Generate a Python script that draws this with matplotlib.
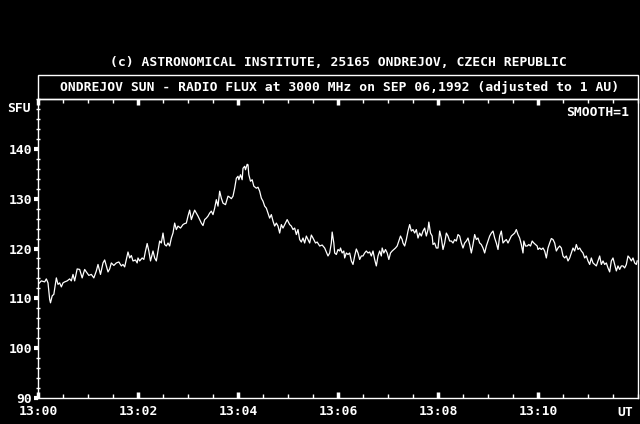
import matplotlib
matplotlib.use("Agg")
from matplotlib import pyplot as plt
from matplotlib.patches import Rectangle
from matplotlib.ticker import FixedLocator, MultipleLocator

# seconds after 13:00 UT and flux in SFU
t_1 = [0, 4, 8, 10, 12, 14, 15, 17, 19, 22, 24, 26, 28, 30, 32, 35, 38, 40, 42, 44,
       47, 50, 53, 56, 58, 61, 64, 67, 70, 72, 75, 78, 80, 82, 84, 86, 88, 91, 94, 97,
       100, 102, 104, 106, 108, 110, 112, 114, 117, 119]
flux_1 = [112.8, 113.5, 113.3, 113.9, 113.1, 109.8, 109.1, 110.5, 110.8, 114.1,
          112.8, 113.1, 112.3, 113.1, 113.3, 113.5, 113.9, 113.5, 114.8, 113.5,
          115.9, 115.8, 114.1, 115.8, 115.3, 114.6, 114.8, 114.1, 115.5, 116.8,
          114.8, 117.1, 117.7, 116.5, 115.3, 115.9, 117.1, 116.6, 117.1, 117.3,
          116.5, 116.8, 116.3, 117.8, 119.3, 118.1, 118.6, 117.5, 117.7, 117.1]

t_2 = [120, 122, 125, 127, 129, 131, 133, 135, 138, 140, 142, 144, 146, 148, 150, 152,
       154, 156, 158, 160, 162, 164, 166, 168, 171, 174, 176, 178, 180, 182, 184, 186,
       188, 190, 192, 194, 196, 198, 200, 202, 204, 206, 208, 210, 212, 214, 216, 218,
       220, 222, 225]
flux_2 = [118.1, 117.5, 118.1, 117.8, 119.5, 121.0, 119.5, 117.5, 119.5, 118.1,
          117.5, 119.5, 121.5, 121.1, 123.1, 120.8, 120.5, 121.1, 120.5, 122.1,
          123.1, 125.1, 123.8, 124.5, 124.1, 124.8, 125.0, 125.1, 126.5, 127.7,
          125.8, 126.8, 127.7, 127.1, 126.5, 125.8, 125.1, 124.6, 125.8, 126.1,
          126.5, 127.1, 127.5, 126.8, 128.1, 129.8, 128.5, 131.5, 130.1, 129.1, 128.8]

t_3 = [228, 230, 232, 234, 236, 238, 240, 241, 243, 245, 246, 248, 249, 251, 252, 253,
       255, 257, 259, 262, 264, 266, 268, 270, 272, 274, 276, 278, 280, 282, 284, 286,
       288, 290, 292, 294, 296, 299, 302, 304, 306, 308, 310, 312, 314, 316, 318, 320,
       322, 324, 326, 328, 330, 333, 335, 338, 341, 344]
flux_3 = [130.5, 130.3, 130.0, 130.5, 132.1, 134.1, 134.5, 133.8, 134.8, 133.8,
          136.1, 136.5, 135.8, 136.9, 136.8, 134.8, 133.5, 133.8, 132.5, 132.1,
          132.3, 131.5, 130.1, 129.5, 128.5, 128.1, 127.1, 126.1, 126.8, 125.5,
          124.5, 125.1, 124.5, 123.1, 124.8, 124.1, 124.8, 125.8, 124.8, 124.5,
          123.8, 124.1, 122.8, 123.8, 121.8, 121.3, 122.1, 121.1, 122.5, 121.8,
          121.1, 122.7, 122.1, 121.1, 121.3, 120.5, 120.7, 120.1]

t_4 = [348, 350, 352, 353, 355, 356, 358, 360, 362, 363, 365, 367, 368, 370, 372, 374,
       376, 378, 380, 382, 384, 386, 388, 390, 392, 394, 396, 398, 400, 402, 404, 406,
       408, 410, 412, 413, 415, 417, 419, 421, 423, 425, 427, 429, 431, 433, 435, 437,
       438, 440, 442, 444, 446, 448, 450, 452, 454, 456, 458, 460, 462, 464, 466, 468,
       469, 471, 473, 474, 476, 478]
flux_4 = [118.5, 119.1, 121.1, 123.3, 121.1, 119.1, 118.8, 119.8, 119.5, 120.1,
          119.1, 119.5, 118.1, 119.1, 118.8, 119.1, 117.5, 116.8, 118.5, 119.9,
          119.1, 117.8, 118.5, 118.5, 119.1, 119.5, 119.1, 119.3, 118.5, 119.5,
          117.8, 116.5, 118.5, 119.5, 118.5, 120.1, 119.1, 119.8, 119.1, 117.8,
          119.1, 119.5, 119.8, 120.1, 120.5, 121.5, 122.5, 121.8, 121.1, 120.5,
          121.8, 123.5, 124.8, 123.5, 123.8, 123.1, 123.8, 122.1, 123.1, 122.5,
          123.5, 124.1, 122.5, 123.8, 125.3, 123.1, 122.5, 120.8, 121.1, 120.1]

t_5 = [480, 482, 484, 486, 488, 490, 492, 494, 496, 498, 500, 502, 504, 506, 508, 510,
       512, 514, 516, 518, 520, 522, 524, 526, 528, 530, 532, 534, 536, 538, 540, 542,
       544, 546, 548, 550, 552, 554, 556, 558, 560, 562, 564, 566, 568, 570, 572, 574,
       576, 578, 580, 582, 583, 585, 587, 589, 591, 593, 595, 597, 599]
flux_5 = [120.1, 123.5, 122.1, 119.8, 121.1, 123.1, 122.5, 121.5, 121.5, 121.1,
          121.8, 121.5, 122.8, 122.5, 121.1, 120.1, 121.1, 121.5, 122.1, 120.8,
          119.1, 120.8, 122.8, 121.8, 122.1, 121.1, 120.8, 120.1, 119.1, 120.5,
          121.5, 122.5, 123.1, 123.5, 122.1, 121.1, 119.8, 122.5, 123.5, 121.1,
          121.5, 121.8, 121.1, 121.8, 122.5, 122.8, 123.1, 123.8, 122.8, 122.1,
          120.8, 119.1, 121.5, 120.5, 120.5, 120.8, 120.5, 121.5, 121.1, 120.8, 120.5]

t_6 = [600, 602, 604, 606, 608, 610, 612, 614, 616, 618, 620, 622, 624, 626, 628, 630,
       632, 634, 636, 638, 640, 642, 644, 646, 648, 650, 652, 654, 656, 658, 660, 662,
       664, 666, 668, 670, 672, 674, 676, 678, 680, 682, 684, 686, 688, 690, 692, 694,
       696, 698, 700, 702, 704, 706, 708, 710, 712, 714, 716, 718, 719]
flux_6 = [119.8, 120.1, 119.8, 120.1, 119.5, 118.1, 120.1, 121.1, 122.0, 121.8,
          121.1, 119.5, 120.1, 120.5, 120.1, 118.5, 118.1, 118.5, 117.5, 118.1,
          119.1, 120.1, 119.5, 120.8, 119.8, 120.1, 119.5, 119.1, 118.1, 118.5,
          117.5, 116.8, 118.1, 117.1, 116.8, 116.5, 117.5, 118.5, 116.8, 117.5,
          116.8, 117.1, 116.1, 115.3, 117.5, 118.1, 116.8, 115.5, 116.5, 115.8,
          116.5, 116.5, 116.1, 116.8, 118.5, 118.1, 117.5, 118.1, 117.1, 116.8, 117.5]

x_ticks = [0, 120, 240, 360, 480, 600]
x_labels = ["13:00", "13:02", "13:04", "13:06", "13:08", "13:10"]
y_ticks = [90, 100, 110, 120, 130, 140]

seconds = t_1 + t_2 + t_3 + t_4 + t_5 + t_6
flux = flux_1 + flux_2 + flux_3 + flux_4 + flux_5 + flux_6

W, H = 640, 424
font = dict(family="DejaVu Sans Mono", fontsize=9.4, fontweight="bold", color="white")

fig = plt.figure(figsize=(W / 100, H / 100), dpi=100, facecolor="black")
ax = fig.add_axes([38 / W, 1 - 398 / H, 600 / W, 299 / H], facecolor="black")

ax.plot(seconds, flux, color="white", lw=0.9)
ax.set_xlim(0, 720)
ax.set_ylim(90, 150)

for side in ax.spines.values():
    side.set_color("white")
    side.set_linewidth(1.0)

ax.xaxis.set_major_locator(FixedLocator(x_ticks))
ax.xaxis.set_minor_locator(MultipleLocator(30))
ax.set_xticklabels(x_labels, **font)
ax.tick_params(axis="x", which="major", direction="in", length=4, width=2.5,
               colors="white", top=True, pad=5)
ax.tick_params(axis="x", which="minor", direction="in", length=3, width=1,
               colors="white", top=True)

ax.yaxis.set_major_locator(FixedLocator(y_ticks))
ax.yaxis.set_minor_locator(MultipleLocator(2))
ax.set_yticklabels([str(v) for v in y_ticks], **font)
ax.tick_params(axis="y", which="major", direction="out", length=3, width=3,
               colors="white", pad=1)
ax.tick_params(axis="y", which="minor", direction="inout", length=3, width=1,
               colors="white")

ax.text(0.985, 0.955, "SMOOTH=1", transform=ax.transAxes, ha="right", va="center", **font)

# title box above the plot
fig.patches.append(Rectangle((38 / W, 1 - 99 / H), 600 / W, 24 / H, transform=fig.transFigure,
                             fill=False, edgecolor="white", lw=1.0))
fig.text(338 / W, 1 - 63 / H, "(c) ASTRONOMICAL INSTITUTE, 25165 ONDREJOV, CZECH REPUBLIC",
         ha="center", va="center", **font)
fig.text(340 / W, 1 - 87 / H,
         "ONDREJOV SUN - RADIO FLUX at 3000 MHz on SEP 06,1992 (adjusted to 1 AU)",
         ha="center", va="center", **font)
fig.text(7 / W, 1 - 108 / H, "SFU", ha="left", va="center", **font)
fig.text(633 / W, 1 - 412 / H, "UT", ha="right", va="center", **font)

fig.savefig("out.png", dpi=100, facecolor="black")
